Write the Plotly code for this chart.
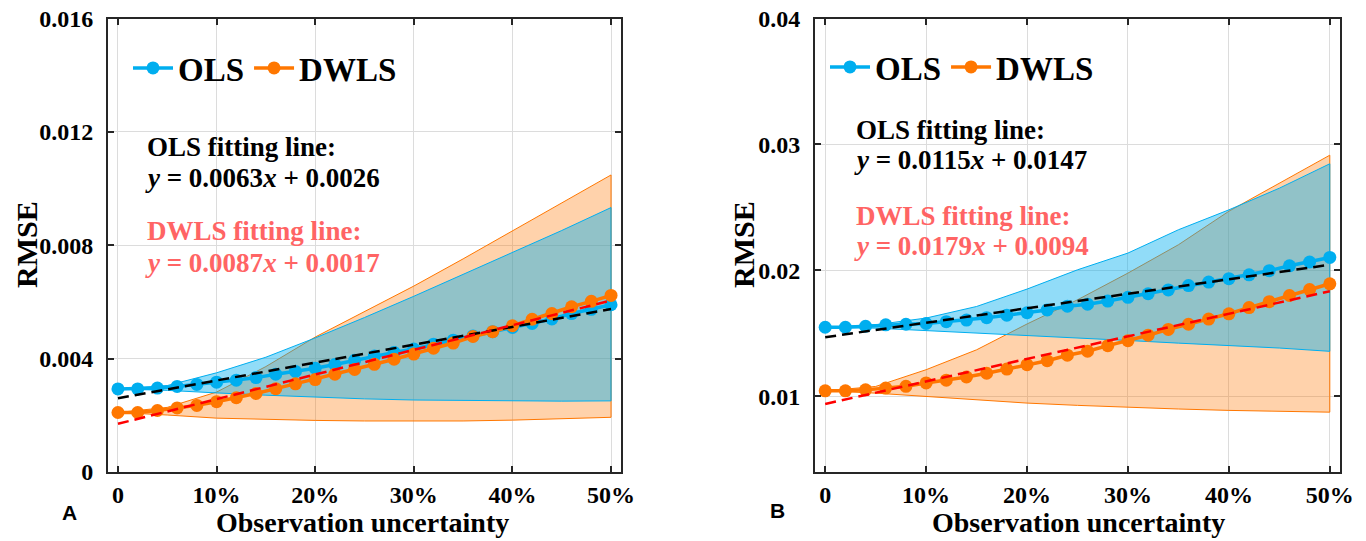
import plotly.graph_objects as go

# ---------------- data ----------------
x_pts = [0.00, 0.02, 0.04, 0.06, 0.08, 0.10, 0.12, 0.14, 0.16, 0.18, 0.20, 0.22, 0.24,
         0.26, 0.28, 0.30, 0.32, 0.34, 0.36, 0.38, 0.40, 0.42, 0.44, 0.46, 0.48, 0.50]

# Panel A
ols_A = [0.00293, 0.00293, 0.00296, 0.00302, 0.00309, 0.00317, 0.00324, 0.00333, 0.00345,
         0.00355, 0.00366, 0.00379, 0.00394, 0.00409, 0.00422, 0.00434, 0.00451, 0.00465,
         0.00480, 0.00495, 0.00510, 0.00524, 0.00540, 0.00559, 0.00574, 0.00590]
dwls_A = [0.00210, 0.00210, 0.00217, 0.00226, 0.00235, 0.00248, 0.00262, 0.00277, 0.00294,
          0.00311, 0.00326, 0.00345, 0.00362, 0.00380, 0.00398, 0.00416, 0.00437, 0.00455,
          0.00478, 0.00495, 0.00516, 0.00539, 0.00559, 0.00583, 0.00602, 0.00623]

x_band = [0.00, 0.05, 0.10, 0.15, 0.20, 0.25, 0.30, 0.35, 0.40, 0.45, 0.50]
ols_A_up = [0.00293, 0.00305, 0.00350, 0.00405, 0.00473, 0.00545, 0.00620, 0.00697, 0.00773, 0.00852, 0.00933]
ols_A_lo = [0.00293, 0.00288, 0.00279, 0.00271, 0.00264, 0.00258, 0.00254, 0.00252, 0.00251, 0.00250, 0.00251]
dwls_A_up = [0.00210, 0.00228, 0.00282, 0.00372, 0.00476, 0.00565, 0.00656, 0.00752, 0.00850, 0.00948, 0.01048]
dwls_A_lo = [0.00210, 0.00201, 0.00190, 0.00185, 0.00182, 0.00180, 0.00179, 0.00180, 0.00183, 0.00187, 0.00193]

# Panel B
ols_B = [0.01549, 0.01549, 0.01557, 0.01568, 0.01573, 0.01579, 0.01593, 0.01606, 0.01625,
         0.01645, 0.01664, 0.01686, 0.01716, 0.01732, 0.01757, 0.01787, 0.01815, 0.01845,
         0.01880, 0.01908, 0.01935, 0.01965, 0.01998, 0.02037, 0.02067, 0.02103]
dwls_B = [0.01044, 0.01044, 0.01052, 0.01066, 0.01080, 0.01107, 0.01129, 0.01154, 0.01184,
          0.01217, 0.01252, 0.01283, 0.01327, 0.01359, 0.01403, 0.01442, 0.01486, 0.01532,
          0.01573, 0.01614, 0.01656, 0.01705, 0.01752, 0.01801, 0.01848, 0.01894]
ols_B_up = [0.01549, 0.01569, 0.01622, 0.01714, 0.01852, 0.02005, 0.02138, 0.02323, 0.02481, 0.02653, 0.02847]
ols_B_lo = [0.01549, 0.01542, 0.01521, 0.01503, 0.01484, 0.01463, 0.01444, 0.01423, 0.01402, 0.01384, 0.01358]
dwls_B_up = [0.01044, 0.01079, 0.01212, 0.01370, 0.01575, 0.01767, 0.01979, 0.02204, 0.02470, 0.02693, 0.02915]
dwls_B_lo = [0.01044, 0.01026, 0.01000, 0.00974, 0.00947, 0.00929, 0.00913, 0.00900, 0.00889, 0.00881, 0.00875]

# fitted lines (coefficients printed in the chart)
fit_x = [0.0, 0.5]
fit_A_ols = (0.0063, 0.0026)
fit_A_dwls = (0.0087, 0.0017)
fit_B_ols = (0.0115, 0.0147)
fit_B_dwls = (0.0179, 0.0094)

x_ticks = [0, 0.1, 0.2, 0.3, 0.4, 0.5]
x_ticktext = ["0", "10%", "20%", "30%", "40%", "50%"]
yA_ticks = [0, 0.004, 0.008, 0.012, 0.016]
yA_ticktext = ["0", "0.004", "0.008", "0.012", "0.016"]
yB_ticks = [0.01, 0.02, 0.03, 0.04]
yB_ticktext = ["0.01", "0.02", "0.03", "0.04"]

# ---------------- style ----------------
W, H = 1366, 541
BLUE = "rgb(0,174,239)"
ORANGE = "rgb(255,119,0)"
BLUE_FILL = "rgba(0,174,239,0.43)"
ORANGE_FILL = "rgba(255,119,0,0.33)"
SALMON = "rgb(255,100,100)"
SERIF = "Liberation Serif, Times New Roman, serif"
FRAME = "rgb(38,38,38)"

def px(x):
    return x / W

def py(y):
    return 1 - y / H

fig = go.Figure()

def add_panel(xa, ya, legend, ols, dwls, o_up, o_lo, d_up, d_lo, f_ols, f_dwls):
    # bands
    fig.add_trace(go.Scatter(x=x_band + x_band[::-1], y=d_up + d_lo[::-1], fill="toself",
                             fillcolor=ORANGE_FILL, line=dict(color=ORANGE, width=1),
                             mode="lines", showlegend=False, hoverinfo="skip",
                             xaxis=xa, yaxis=ya))
    fig.add_trace(go.Scatter(x=x_band + x_band[::-1], y=o_up + o_lo[::-1], fill="toself",
                             fillcolor=BLUE_FILL, line=dict(color=BLUE, width=1),
                             mode="lines", showlegend=False, hoverinfo="skip",
                             xaxis=xa, yaxis=ya))
    # data lines
    fig.add_trace(go.Scatter(x=x_pts, y=ols, mode="lines+markers", name="OLS",
                             line=dict(color=BLUE, width=3.5),
                             marker=dict(color=BLUE, size=13, symbol="circle"),
                             legend=legend, xaxis=xa, yaxis=ya))
    fig.add_trace(go.Scatter(x=x_pts, y=dwls, mode="lines+markers", name="DWLS",
                             line=dict(color=ORANGE, width=3.5),
                             marker=dict(color=ORANGE, size=13, symbol="circle"),
                             legend=legend, xaxis=xa, yaxis=ya))
    # fitted lines
    for (a, b), col in ((f_ols, "black"), (f_dwls, "red")):
        fig.add_trace(go.Scatter(x=fit_x, y=[a * v + b for v in fit_x], mode="lines",
                                 line=dict(color=col, width=2.5, dash="11px,6px"),
                                 showlegend=False, hoverinfo="skip", xaxis=xa, yaxis=ya))

add_panel("x", "y", "legend", ols_A, dwls_A, ols_A_up, ols_A_lo, dwls_A_up, dwls_A_lo,
          fit_A_ols, fit_A_dwls)
add_panel("x2", "y2", "legend2", ols_B, dwls_B, ols_B_up, ols_B_lo, dwls_B_up, dwls_B_lo,
          fit_B_ols, fit_B_dwls)

tickfont = dict(family=SERIF, size=24, color="black", weight="bold")
common_x = dict(range=[-0.0101, 0.5101], tickvals=x_ticks, ticktext=x_ticktext,
                showgrid=True, gridcolor="rgb(220,220,220)", gridwidth=1,
                zeroline=False, showline=True, linecolor=FRAME, linewidth=2,
                mirror="ticks", ticks="inside", ticklen=6, tickwidth=2, tickcolor=FRAME,
                tickfont=tickfont, ticklabelstandoff=0, automargin=False)
common_y = dict(showgrid=True, gridcolor="rgb(220,220,220)", gridwidth=1,
                zeroline=False, showline=True, linecolor=FRAME, linewidth=2,
                mirror="ticks", ticks="inside", ticklen=6, tickwidth=2, tickcolor=FRAME,
                tickfont=tickfont, ticklabelstandoff=8, automargin=False)

ydom = [py(472), py(18.5)]
legfont = dict(family=SERIF, size=33, color="black", weight="bold")
fig.update_layout(
    width=W, height=H, autosize=False,
    margin=dict(l=0, r=0, t=0, b=0, autoexpand=False),
    paper_bgcolor="white", plot_bgcolor="white",
    xaxis=dict(domain=[px(108), px(621)], anchor="y", **common_x),
    xaxis2=dict(domain=[px(815), px(1340)], anchor="y2", **common_x),
    yaxis=dict(domain=ydom, anchor="x", range=[0, 0.016], tickvals=yA_ticks,
               ticktext=yA_ticktext, **common_y),
    yaxis2=dict(domain=ydom, anchor="x2", range=[0.004, 0.04], tickvals=yB_ticks,
                ticktext=yB_ticktext, **common_y),
    legend=dict(orientation="h", x=px(128), y=py(68), xanchor="left", yanchor="middle",
                bgcolor="rgba(0,0,0,0)", font=legfont, itemwidth=40),
    legend2=dict(orientation="h", x=px(825), y=py(67), xanchor="left", yanchor="middle",
                 bgcolor="rgba(0,0,0,0)", font=legfont, itemwidth=40),
    showlegend=True,
)

def text(x, y, s, size, color="black", family=SERIF, xanchor="left", angle=0, yanchor="middle"):
    fig.add_annotation(x=px(x), y=py(y), xref="paper", yref="paper", text=s, showarrow=False,
                       xanchor=xanchor, yanchor=yanchor, textangle=angle,
                       font=dict(family=family, size=size, color=color, weight="bold"))

# fit annotations panel A
text(145, 146.5, "OLS fitting line:", 27)
text(143, 177.6, "<i>y</i> = 0.0063<i>x</i> + 0.0026", 27)
text(145, 231, "DWLS fitting line:", 27, SALMON)
text(143, 262.8, "<i>y</i> = 0.0087<i>x</i> + 0.0017", 27, SALMON)
# panel B
text(854, 129.7, "OLS fitting line:", 27)
text(852, 159.7, "<i>y</i> = 0.0115<i>x</i> + 0.0147", 27)
text(854, 216, "DWLS fitting line:", 27, SALMON)
text(852, 246.4, "<i>y</i> = 0.0179<i>x</i> + 0.0094", 27, SALMON)

# axis titles
text(27, 245, "RMSE", 30, xanchor="center", angle=-90)
text(744, 245, "RMSE", 30, xanchor="center", angle=-90)
text(362, 540, "Observation uncertainty", 28, xanchor="center", yanchor="bottom")
text(1078, 540, "Observation uncertainty", 28, xanchor="center", yanchor="bottom")

# panel letters
text(69, 512, "A", 21, family="Liberation Sans", xanchor="center")
text(777, 510, "B", 21, family="Liberation Sans", xanchor="center")

fig.write_html("out.html")
